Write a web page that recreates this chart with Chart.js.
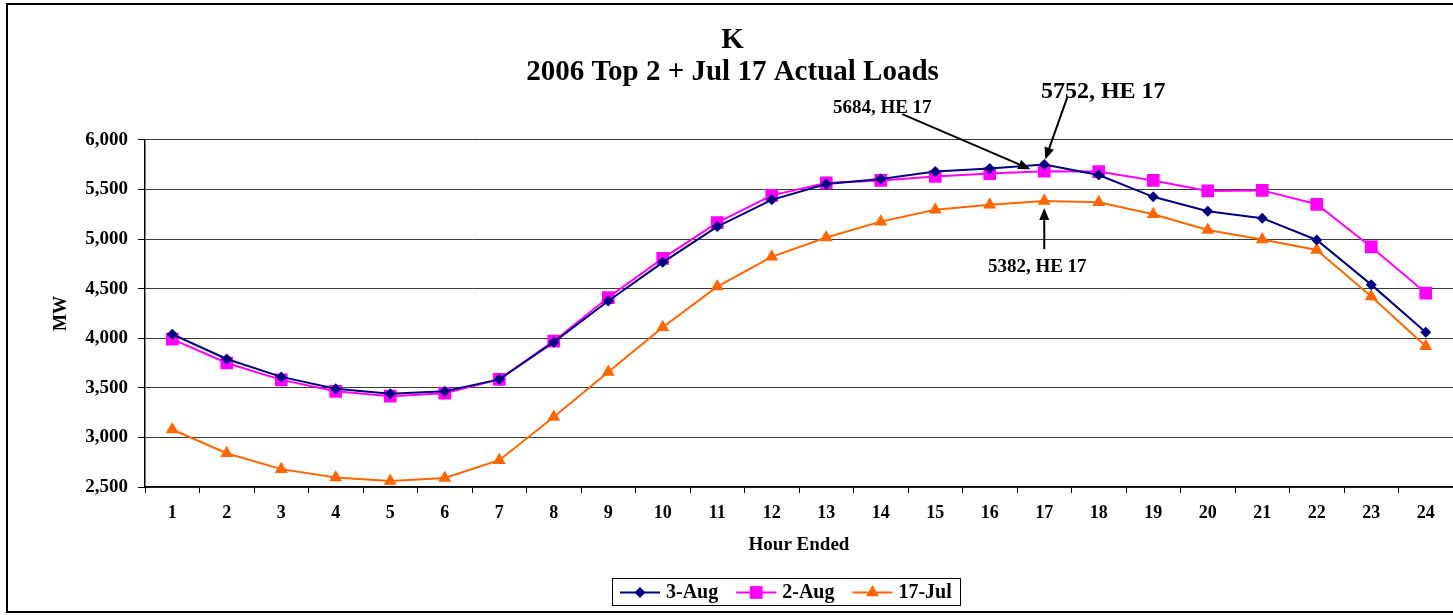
<!DOCTYPE html>
<html>
<head>
<meta charset="utf-8">
<script src="https://cdn.jsdelivr.net/npm/chart.js@4.4.1/dist/chart.umd.min.js"></script>
<style>
  html, body { margin: 0; padding: 0; background: #fff; overflow: hidden; }
  canvas { display: block; }
</style>
</head>
<body>
<canvas id="loadChart" width="1462" height="615"></canvas>
<script>
// hour ended 1..24
const hours = ["1","2","3","4","5","6","7","8","9","10","11","12","13","14","15","16","17","18","19","20","21","22","23","24"];

const aug3 = [4040, 3790, 3610, 3490, 3440, 3465, 3585, 3960, 4375, 4765, 5125, 5395,
              5555, 5605, 5680, 5710, 5752, 5645, 5425, 5280, 5210, 4990, 4540, 4060];
const aug2 = [3990, 3750, 3580, 3465, 3415, 3445, 3585, 3970, 4410, 4805, 5165, 5440,
              5565, 5590, 5630, 5660, 5684, 5680, 5590, 5485, 5490, 5350, 4920, 4455];
const jul17 = [3080, 2840, 2680, 2595, 2560, 2590, 2770, 3205, 3660, 4110, 4520, 4820,
               5015, 5175, 5295, 5345, 5382, 5370, 5250, 5090, 4995, 4890, 4420, 3920];

const yMin = 2500;
const yMax = 6000;
const yStep = 500;

const seriesNames = ["3-Aug", "2-Aug", "17-Jul"];
const titleLines = ["K", "2006 Top 2 + Jul 17 Actual Loads"];

const FONT = "'Liberation Serif', 'Times New Roman', serif";

function drawMarker(ctx, style, x, y, r, color) {
  ctx.fillStyle = color;
  ctx.beginPath();
  if (style === "rectRot") {
    ctx.moveTo(x, y - r);
    ctx.lineTo(x + r, y);
    ctx.lineTo(x, y + r);
    ctx.lineTo(x - r, y);
  } else if (style === "rect") {
    const s = r * Math.SQRT1_2;
    ctx.rect(x - s, y - s, 2 * s, 2 * s);
  } else {
    let a = 0;
    for (let i = 0; i < 3; i++) {
      const px = x + Math.sin(a) * r, py = y - Math.cos(a) * r;
      if (i === 0) ctx.moveTo(px, py); else ctx.lineTo(px, py);
      a += Math.PI * 2 / 3;
    }
  }
  ctx.closePath();
  ctx.fill();
}

function arrow(ctx, x1, y1, x2, y2) {
  const ang = Math.atan2(y2 - y1, x2 - x1);
  const len = 12, half = 5;
  const bx = x2 - Math.cos(ang) * len, by = y2 - Math.sin(ang) * len;
  ctx.strokeStyle = "#000";
  ctx.lineWidth = 2;
  ctx.beginPath();
  ctx.moveTo(x1, y1);
  ctx.lineTo(bx, by);
  ctx.stroke();
  ctx.fillStyle = "#000";
  ctx.beginPath();
  ctx.moveTo(x2, y2);
  ctx.lineTo(bx + Math.sin(ang) * half, by - Math.cos(ang) * half);
  ctx.lineTo(bx - Math.sin(ang) * half, by + Math.cos(ang) * half);
  ctx.closePath();
  ctx.fill();
}

// frame, peak call-outs and the boxed legend
const extras = {
  id: "extras",
  afterDatasetsDraw(chart) {
    const ctx = chart.ctx;
    const xs = chart.scales.x, ys = chart.scales.y;

    // peak annotations (text offset, line start, arrow tip relative to the point)
    const notes = [
      { data: aug2, size: 19, t: [-162, -63], s: [-142, -57], e: [-14, -2] },
      { data: aug3, size: 24, t: [59, -73], s: [23, -67], e: [1, -5] },
      { data: jul17, size: 19, t: [-7, 66], s: [0, 48], e: [0, 7] }
    ];
    notes.forEach(n => {
      const peak = Math.max(...n.data);
      const i = n.data.indexOf(peak);
      const px = xs.getPixelForValue(i), py = ys.getPixelForValue(peak);
      ctx.save();
      ctx.font = "bold " + n.size + "px " + FONT;
      ctx.fillStyle = "#000";
      ctx.textAlign = "center";
      ctx.textBaseline = "middle";
      ctx.fillText(peak + ", HE " + hours[i], px + n.t[0], py + n.t[1]);
      arrow(ctx, px + n.s[0], py + n.s[1], px + n.e[0], py + n.e[1]);
      ctx.restore();
    });

    // legend
    ctx.save();
    const lx = 612, ly = 578, lw = 348, lh = 27;
    ctx.fillStyle = "#fff";
    ctx.fillRect(lx, ly, lw, lh);
    ctx.strokeStyle = "#000";
    ctx.lineWidth = 1;
    ctx.strokeRect(lx + 0.5, ly + 0.5, lw, lh);
    ctx.font = "bold 20px " + FONT;
    ctx.textBaseline = "middle";
    ctx.textAlign = "left";
    let cx = lx + 8;
    const cy = ly + lh / 2 + 1;
    chart.data.datasets.forEach(ds => {
      ctx.strokeStyle = ds.borderColor;
      ctx.lineWidth = 2;
      ctx.beginPath();
      ctx.moveTo(cx, cy);
      ctx.lineTo(cx + 40, cy);
      ctx.stroke();
      drawMarker(ctx, ds.pointStyle, cx + 20, cy, ds.pointRadius, ds.backgroundColor);
      ctx.fillStyle = "#000";
      ctx.fillText(ds.label, cx + 46, cy);
      cx += 46 + ctx.measureText(ds.label).width + 18;
    });
    ctx.restore();

    // outer border
    ctx.save();
    ctx.strokeStyle = "#000";
    ctx.lineWidth = 2;
    ctx.strokeRect(7, 4, 1470, 608);
    ctx.restore();
  }
};

const ctx = document.getElementById("loadChart").getContext("2d");
const chart = new Chart(ctx, {
  type: "line",
  data: {
    labels: hours,
    datasets: [
      {
        label: seriesNames[0],
        data: aug3,
        borderColor: "#000080",
        backgroundColor: "#000080",
        borderWidth: 2,
        pointStyle: "rectRot",
        pointRadius: 5.5,
        pointBorderWidth: 0,
        tension: 0
      },
      {
        label: seriesNames[1],
        data: aug2,
        borderColor: "#ff00ff",
        backgroundColor: "#ff00ff",
        borderWidth: 2,
        pointStyle: "rect",
        pointRadius: 9,
        pointBorderWidth: 0,
        tension: 0
      },
      {
        label: seriesNames[2],
        data: jul17,
        borderColor: "#ff6600",
        backgroundColor: "#ff6600",
        borderWidth: 2,
        pointStyle: "triangle",
        pointRadius: 7.5,
        pointBorderWidth: 0,
        tension: 0
      }
    ]
  },
  options: {
    responsive: false,
    animation: false,
    devicePixelRatio: 1,
    layout: { padding: { left: 10, right: 7, top: 0, bottom: 58 } },
    plugins: {
      legend: { display: false },
      tooltip: { enabled: false },
      title: {
        display: true,
        text: titleLines,
        color: "#000",
        font: { family: FONT, size: 29, weight: "bold", lineHeight: 1.1 },
        padding: { top: 25, bottom: 51 }
      }
    },
    scales: {
      x: {
        offset: true,
        afterFit(scale) { scale.height = 70; },
        grid: {
          offset: true,
          drawOnChartArea: false,
          drawTicks: true,
          tickLength: 6,
          color: "#000"
        },
        border: { color: "#000", width: 1.5 },
        ticks: {
          color: "#000",
          padding: 10,
          maxRotation: 0,
          autoSkip: false,
          font: { family: FONT, size: 18, weight: "bold" }
        },
        title: {
          display: true,
          text: "Hour Ended",
          color: "#000",
          padding: { top: 0, bottom: 1 },
          font: { family: FONT, size: 19, weight: "bold", lineHeight: 1.2 }
        }
      },
      y: {
        min: yMin,
        max: yMax,
        afterFit(scale) { scale.width = 135; },
        grid: {
          color: "#3a3a3a",
          lineWidth: 1,
          drawTicks: true,
          tickLength: 7,
          tickColor: "#000"
        },
        border: { color: "#000", width: 1.5 },
        ticks: {
          stepSize: yStep,
          color: "#000",
          padding: 10,
          font: { family: FONT, size: 19, weight: "bold" },
          callback: v => v.toLocaleString("en-US")
        },
        title: {
          display: true,
          text: "MW",
          color: "#000",
          padding: { top: 41, bottom: 0 },
          font: { family: FONT, size: 18, weight: "bold", lineHeight: 1.2 }
        }
      }
    }
  },
  plugins: [extras]
});
</script>
</body>
</html>
